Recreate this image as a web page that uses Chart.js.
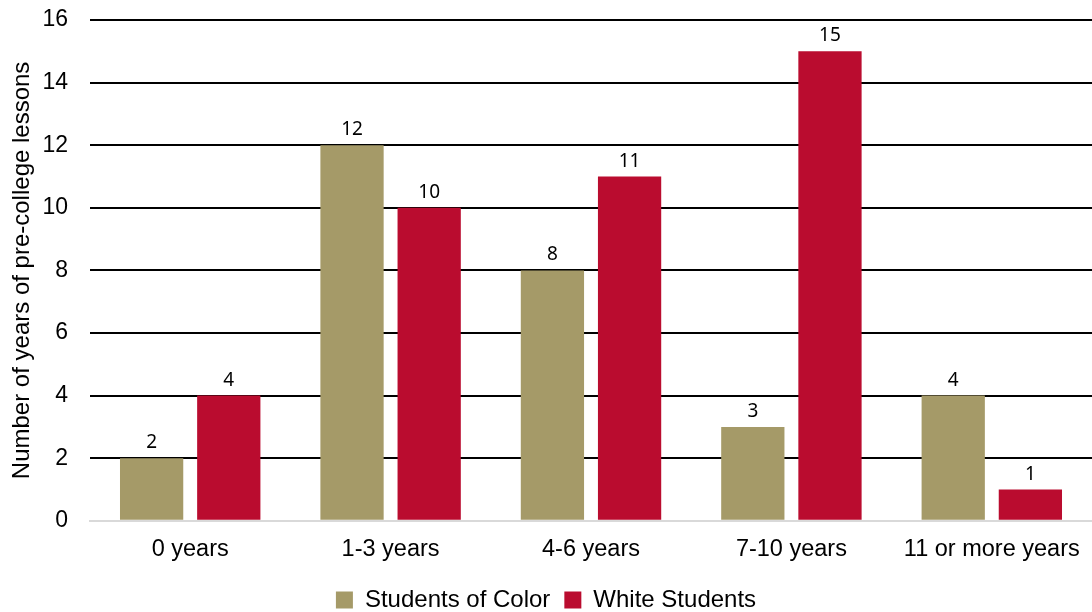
<!DOCTYPE html>
<html>
<head>
<meta charset="utf-8">
<script src="https://cdn.jsdelivr.net/npm/chart.js@4.4.1/dist/chart.umd.min.js"></script>
<style>
  html, body { margin: 0; padding: 0; background: #fff; }
  #wrap { width: 1092px; height: 612px; }
</style>
</head>
<body>
<div id="wrap"><canvas id="chartYears"></canvas></div>
<script>
const categories = ['0 years', '1-3 years', '4-6 years', '7-10 years', '11 or more years'];
const studentsOfColor = [2, 12, 8, 3, 4];
const whiteStudents = [4, 10, 11, 15, 1];
const yTicks = [0, 2, 4, 6, 8, 10, 12, 14, 16];

// valores encima de cada barra
const barLabels = {
  id: 'barLabels',
  afterDatasetsDraw(chart) {
    const { ctx } = chart;
    ctx.save();
    ctx.font = '19px "Noto Sans", sans-serif';
    ctx.fillStyle = '#000';
    ctx.textAlign = 'center';
    ctx.textBaseline = 'alphabetic';
    chart.data.datasets.forEach((ds, i) => {
      chart.getDatasetMeta(i).data.forEach((bar, j) => {
        ctx.fillText(ds.data[j], bar.x, bar.y - 10);
      });
    });
    ctx.restore();
  }
};

const fontFam = '"Liberation Sans", Arial, sans-serif';

document.addEventListener('DOMContentLoaded', () => {
  const ctx = document.getElementById('chartYears').getContext('2d');
  new Chart(ctx, {
    type: 'bar',
    data: {
      labels: categories,
      datasets: [{
        label: 'Students of Color',
        data: studentsOfColor,
        backgroundColor: '#A59A68',
        borderWidth: 0
      }, {
        label: 'White Students',
        data: whiteStudents,
        backgroundColor: '#BA0C2F',
        borderWidth: 0
      }]
    },
    options: {
      responsive: true,
      maintainAspectRatio: false,
      animation: false,
      events: [],
      layout: { padding: { top: 20, right: 0, left: 0, bottom: -10 } },
      datasets: { bar: { categoryPercentage: 0.77, barPercentage: 0.82 } },
      plugins: {
        tooltip: { enabled: false },
        legend: {
          position: 'bottom',
          labels: {
            font: { family: fontFam, size: 24 },
            color: '#000',
            boxWidth: 17,
            boxHeight: 17,
            padding: 14
          }
        }
      },
      scales: {
        x: {
          afterFit: axis => {
            axis.height -= 5;
            axis.paddingRight = 0;
            axis.paddingLeft = 0;
          },
          grid: { display: false, drawTicks: false },
          border: { display: true, color: '#D9D9D9', width: 2 },
          ticks: {
            color: '#000',
            padding: 15,
            font: { family: fontFam, size: 23.5 }
          }
        },
        y: {
          min: 0,
          max: 16,
          afterBuildTicks: axis => { axis.ticks = yTicks.map(v => ({ value: v })); },
          afterFit: axis => { axis.width = 90; axis.paddingTop = 0; },
          grid: {
            color: c => c.tick.value === 0 ? '#D9D9D9' : '#000',
            lineWidth: 2,
            drawTicks: false
          },
          border: { display: false },
          ticks: {
            color: '#000',
            padding: 22,
            font: { family: fontFam, size: 23 }
          },
          title: {
            display: true,
            text: 'Number of years of pre-college lessons',
            color: '#000',
            padding: { top: 8, bottom: 0 },
            font: { family: fontFam, size: 24 }
          }
        }
      }
    },
    plugins: [barLabels]
  });
});
</script>
</body>
</html>
